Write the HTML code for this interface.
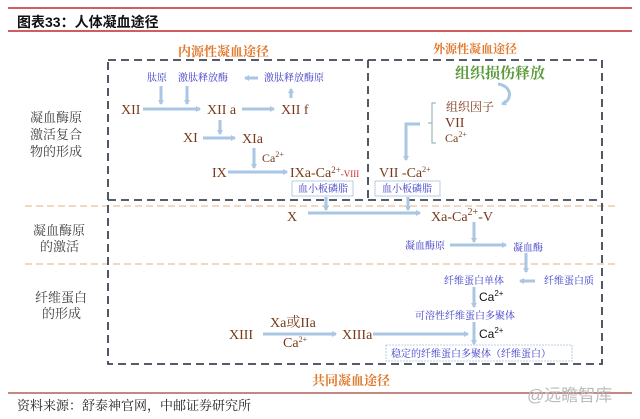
<!DOCTYPE html>
<html><head><meta charset="utf-8"><style>
html,body{margin:0;padding:0;background:#fff;}
svg{display:block;}
text{font-family:"Liberation Serif","Noto Serif CJK SC",serif;}
.b{fill:#3a3ac8;font-size:10px;}
.r{fill:#7a3a1a;font-size:14px;}
</style></head><body>
<svg width="640" height="419" viewBox="0 0 640 419" xmlns="http://www.w3.org/2000/svg">
<defs>
<marker id="ah" markerWidth="6" markerHeight="6" refX="4" refY="3" orient="auto" markerUnits="userSpaceOnUse"><path d="M0,0 L5,3 L0,6 z" fill="#a9c6e4"/></marker>
</defs>
<line x1="8" y1="8" x2="632" y2="8" stroke="#c0282c" stroke-width="1.5"/>
<text x="17" y="27" style="font-family:'Liberation Sans','Noto Sans CJK SC',sans-serif;font-weight:bold;font-size:14px" fill="#111">图表33：人体凝血途径</text>
<line x1="8" y1="31" x2="632" y2="31" stroke="#c0282c" stroke-width="1.5"/>

<text x="178" y="56" fill="#e0782c" font-size="13" font-weight="bold">内源性凝血途径</text>
<text x="433" y="53" fill="#e0782c" font-size="12" font-weight="bold">外源性凝血途径</text>
<text x="312" y="385" fill="#e0782c" font-size="13" font-weight="bold">共同凝血途径</text>

<line x1="25" y1="206" x2="615" y2="206" stroke="#e8c29a" stroke-width="1.2" stroke-dasharray="7,4"/>
<line x1="25" y1="264" x2="615" y2="264" stroke="#e8c29a" stroke-width="1.2" stroke-dasharray="7,4"/>

<g fill="none" stroke="#3e4653" stroke-width="1.8" stroke-dasharray="8,5">
<rect x="108" y="60" width="494" height="304"/>
<line x1="368" y1="60" x2="368" y2="200"/>
<line x1="108" y1="200" x2="602" y2="200"/>
</g>

<g fill="#444" font-size="13">
<text x="30" y="122">凝血酶原</text>
<text x="30" y="139">激活复合</text>
<text x="30" y="156">物的形成</text>
<text x="33" y="235">凝血酶原</text>
<text x="40" y="251">的激活</text>
<text x="35" y="302">纤维蛋白</text>
<text x="42" y="318">的形成</text>
</g>

<g stroke="#a9c6e4" stroke-width="3" fill="none" marker-end="url(#ah)">
<line x1="143" y1="109" x2="200" y2="109"/>
<line x1="161" y1="86" x2="161" y2="104"/>
<line x1="187" y1="86" x2="187" y2="104"/>
<line x1="258" y1="78" x2="245" y2="78"/>
<line x1="242" y1="109" x2="274" y2="109"/>
<line x1="291" y1="98" x2="291" y2="89"/>
<line x1="220" y1="120" x2="220" y2="134"/>
<line x1="203" y1="138" x2="235" y2="138"/>
<line x1="254" y1="148" x2="254" y2="168"/>
<line x1="228" y1="172" x2="287" y2="172"/>
<line x1="326" y1="197" x2="326" y2="210"/>
<line x1="408" y1="197" x2="408" y2="210"/>
<polyline points="420,124 406,124 406,160"/>
<line x1="308" y1="213" x2="420" y2="213"/>
<line x1="474" y1="222" x2="474" y2="242"/>
<line x1="450" y1="245" x2="506" y2="245"/>
<line x1="526" y1="253" x2="526" y2="272"/>
<line x1="535" y1="281" x2="520" y2="281"/>
<line x1="474" y1="287" x2="474" y2="307"/>
<line x1="263" y1="334" x2="336" y2="334"/>
<line x1="373" y1="334" x2="468" y2="334"/>
<line x1="474" y1="322" x2="474" y2="344"/>
<path d="M498,84 C512,86 513,100 502,104"/>
</g>

<text x="147" y="81" class="b">肽原</text>
<text x="178" y="81" class="b">激肽释放酶</text>
<text x="264" y="81" class="b">激肽释放酶原</text>
<text x="121" y="114" class="r">XII</text>
<text x="207" y="114" class="r">XII a</text>
<text x="281" y="114" class="r">XII f</text>
<text x="183" y="142" class="r">XI</text>
<text x="242" y="143" class="r">XIa</text>
<text x="262" y="162" fill="#7a3a1a" font-size="12">Ca<tspan font-size="8" dy="-5">2+</tspan></text>
<text x="212" y="177" class="r">IX</text>
<text x="290" y="177" class="r">IXa-Ca<tspan font-size="9" dy="-4">2+</tspan><tspan dy="4" font-size="9">-</tspan><tspan fill="#d02020" font-size="9">VIII</tspan></text>
<rect x="292" y="181" width="61" height="15" fill="#fff" stroke="#a9c0dc" stroke-width="0.8"/>
<text x="298" y="192" class="b" font-size="9">血小板磷脂</text>

<text x="455" y="78" fill="#5a9a3a" font-size="15" font-weight="bold">组织损伤释放</text>
<path d="M436,103 L432,103 L432,143 L436,143 M432,123 L428,123" stroke="#8aa" fill="none" stroke-width="1"/>
<text x="446" y="111" fill="#7a3a1a" font-size="12">组织因子</text>
<text x="445" y="127" class="r" font-size="13">VII</text>
<text x="445" y="142" fill="#7a3a1a" font-size="12">Ca<tspan font-size="8" dy="-5">2+</tspan></text>
<text x="379" y="177" class="r" font-size="13">VII -Ca<tspan font-size="8" dy="-5">2+</tspan></text>
<rect x="375" y="181" width="65" height="15" fill="#fff" stroke="#a9c0dc" stroke-width="0.8"/>
<text x="382" y="192" class="b" font-size="9">血小板磷脂</text>

<text x="287" y="221" class="r" font-size="19">X</text>
<text x="431" y="221" class="r" font-size="17">Xa-Ca<tspan font-size="10" dy="-6">2+</tspan><tspan dy="6">-V</tspan></text>
<text x="405" y="249" class="b">凝血酶原</text>
<text x="513" y="251" class="b">凝血酶</text>
<text x="444" y="284" class="b">纤维蛋白单体</text>
<text x="544" y="284" class="b">纤维蛋白质</text>
<text x="479" y="301" fill="#111" font-size="12" style="font-family:'Liberation Sans',sans-serif">Ca<tspan font-size="8" dy="-5">2+</tspan></text>
<text x="415" y="319" class="b">可溶性纤维蛋白多聚体</text>
<text x="229" y="339" class="r" font-size="13">XIII</text>
<text x="270" y="327" class="r" font-size="12">Xa或IIa</text>
<text x="283" y="347" class="r" font-size="12">Ca<tspan font-size="8" dy="-5">2+</tspan></text>
<text x="342" y="339" class="r" font-size="13">XIIIa</text>
<text x="479" y="338" fill="#111" font-size="12" style="font-family:'Liberation Sans',sans-serif">Ca<tspan font-size="8" dy="-5">2+</tspan></text>
<rect x="386" y="345" width="186" height="16" fill="#fff" stroke="#a9c0dc" stroke-width="0.8" stroke-dasharray="2,1"/>
<text x="391" y="357" class="b">稳定的纤维蛋白多聚体（纤维蛋白）</text>

<line x1="8" y1="393" x2="632" y2="393" stroke="#b0605a" stroke-width="1.5"/>
<text x="17" y="410" fill="#222" font-size="13">资料来源：舒泰神官网，中邮证券研究所</text>
<text x="527" y="401" fill="#bbb" font-size="17" style="font-family:'Liberation Sans','Noto Sans CJK SC',sans-serif">@远瞻智库</text>
</svg>
</body></html>
